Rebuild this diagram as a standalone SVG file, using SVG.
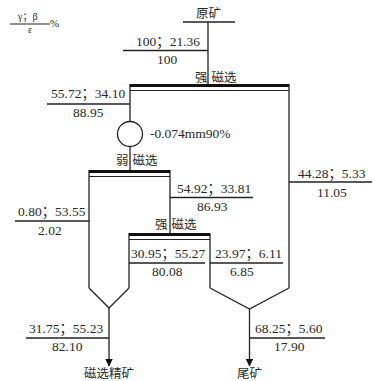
<svg xmlns="http://www.w3.org/2000/svg" width="374" height="381" viewBox="0 0 374 381">
<style>
.t{font-family:"Liberation Serif","Noto Sans CJK SC",serif;font-size:13.5px;fill:#2a2a2a}
.c{font-family:"Noto Sans CJK SC",sans-serif;font-size:12.5px;fill:#2a2a2a}
.l{stroke:#222;stroke-width:1.3;fill:none}
.bar{stroke:#111;stroke-width:3;fill:none}
.thin{stroke:#222;stroke-width:1;fill:none}
</style>
<defs>
<marker id="ah" markerWidth="8" markerHeight="10" refX="7.5" refY="4" orient="auto" markerUnits="userSpaceOnUse" viewBox="0 0 8 8">
<path d="M0,0 L8,4 L0,8 Z" fill="#111"/>
</marker>
</defs>
<rect width="374" height="381" fill="#fff"/>
<g id="legend">
<text class="t" x="18" y="20" style="font-size:10px">γ；β</text>
<line class="thin" x1="10" y1="24" x2="50" y2="24"/>
<text class="t" x="28" y="33" style="font-size:10px">ε</text>
<text class="t" x="50" y="27" style="font-size:11px">%</text>
</g>
<g id="connectors">
<!-- feed -->
<line class="l" x1="183" y1="22" x2="235" y2="22"/>
<line class="l" x1="208" y1="22" x2="208" y2="84"/>
<line class="l" x1="123" y1="50.5" x2="208" y2="50.5"/>
<!-- strong 1 box verticals -->
<line class="l" x1="130" y1="84" x2="130" y2="121.5"/>
<line class="l" x1="130" y1="146.5" x2="130" y2="170"/>
<line class="l" x1="289" y1="84" x2="289" y2="288"/>
<line class="l" x1="47" y1="104" x2="130" y2="104"/>
<line class="l" x1="289" y1="182" x2="372" y2="182"/>
<!-- weak box -->
<line class="l" x1="89" y1="170" x2="89" y2="288"/>
<line class="l" x1="170" y1="170" x2="170" y2="233"/>
<line class="l" x1="170" y1="197.5" x2="253" y2="197.5"/>
<line class="l" x1="15" y1="221" x2="89" y2="221"/>
<!-- strong 2 -->
<line class="l" x1="129" y1="233" x2="129" y2="288"/>
<line class="l" x1="210" y1="233" x2="210" y2="288"/>
<line class="l" x1="129" y1="263" x2="205" y2="263"/>
<line class="l" x1="210" y1="263" x2="283" y2="263"/>
<!-- hoppers -->
<path class="l" d="M89,288 L109,308 L129,288"/>
<path class="l" d="M210,288 L249.5,309 L289,288"/>
<line class="l" x1="109" y1="308" x2="109" y2="366" marker-end="url(#ah)"/>
<line class="l" x1="249.5" y1="309" x2="249.5" y2="366" marker-end="url(#ah)"/>
<line class="l" x1="26" y1="338" x2="109" y2="338"/>
<line class="l" x1="249.5" y1="338" x2="325" y2="338"/>
</g>
<g id="feed">
<text class="c" x="196" y="18">原矿</text>
<text class="t" x="136" y="46">100；21.36</text>
<text class="t" x="157" y="64">100</text>
</g>
<g id="strong1">
<line class="bar" x1="130" y1="85.5" x2="289" y2="85.5"/>
<line class="thin" x1="130" y1="90.5" x2="289" y2="90.5"/>
<text class="c" x="195" y="82">强<tspan dx="4">磁选</tspan></text>
<text class="t" x="51" y="98">55.72；34.10</text>
<text class="t" x="73" y="117">88.95</text>
<text class="t" x="298" y="178">44.28；5.33</text>
<text class="t" x="317" y="197">11.05</text>
</g>
<g id="grinding">
<circle cx="130" cy="134" r="12.5" fill="none" stroke="#222" stroke-width="1.3"/>
<text class="t" x="150" y="138">-0.074mm90%</text>
</g>
<g id="weak">
<line class="bar" x1="89" y1="171.5" x2="170" y2="171.5"/>
<line class="thin" x1="89" y1="176.5" x2="170" y2="176.5"/>
<text class="c" x="116" y="165">弱<tspan dx="4">磁选</tspan></text>
<text class="t" x="177" y="193">54.92；33.81</text>
<text class="t" x="197" y="211">86.93</text>
<text class="t" x="18" y="216">0.80；53.55</text>
<text class="t" x="38" y="235">2.02</text>
</g>
<g id="strong2">
<line class="bar" x1="129" y1="234.5" x2="210" y2="234.5"/>
<line class="thin" x1="129" y1="239.5" x2="210" y2="239.5"/>
<text class="c" x="155" y="229">强<tspan dx="4">磁选</tspan></text>
<text class="t" x="131" y="258">30.95；55.27</text>
<text class="t" x="152" y="276">80.08</text>
<text class="t" x="215" y="258">23.97；6.11</text>
<text class="t" x="230" y="276">6.85</text>
</g>
<g id="concentrate">
<text class="t" x="29" y="333">31.75；55.23</text>
<text class="t" x="52" y="351">82.10</text>
<text class="c" x="84" y="378">磁选精矿</text>
</g>
<g id="tailings">
<text class="t" x="255" y="333">68.25；5.60</text>
<text class="t" x="274" y="351">17.90</text>
<text class="c" x="237" y="378">尾矿</text>
</g>
</svg>
